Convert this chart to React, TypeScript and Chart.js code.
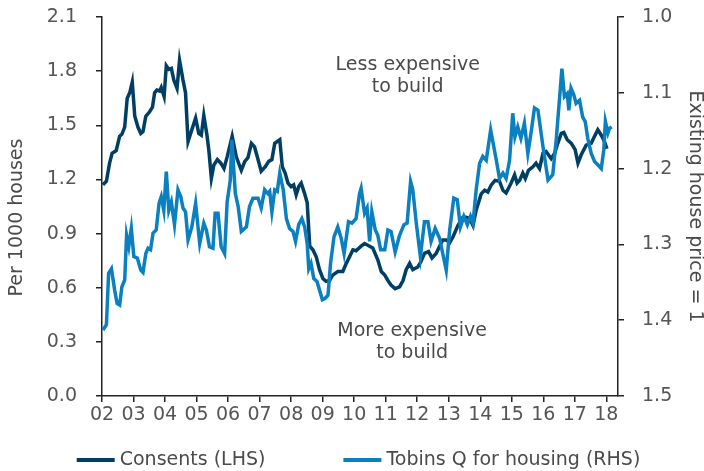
import React, { useEffect, useRef } from 'react';
import { Chart, registerables } from 'chart.js';

Chart.register(...registerables);

// ---- Data (decimal year, value) ----
const consentsX = [
  2002.03, 2002.14, 2002.24, 2002.32, 2002.45, 2002.56, 2002.63, 2002.72, 2002.80, 2002.88, 2002.96,
  2003.04, 2003.14, 2003.23, 2003.30, 2003.39, 2003.51, 2003.60, 2003.67, 2003.74, 2003.83, 2003.88, 2003.97,
  2004.04, 2004.12, 2004.20, 2004.28, 2004.38, 2004.46, 2004.57, 2004.65, 2004.73, 2004.83, 2004.97,
  2005.07, 2005.15, 2005.23, 2005.33, 2005.39, 2005.47, 2005.55, 2005.66, 2005.77, 2005.87, 2005.97,
  2006.13, 2006.26, 2006.42, 2006.53, 2006.63, 2006.74, 2006.84, 2006.95,
  2007.05, 2007.18, 2007.29, 2007.39, 2007.48, 2007.64, 2007.72, 2007.81, 2007.90,
  2008.00, 2008.08, 2008.16, 2008.24, 2008.32, 2008.43, 2008.51, 2008.59, 2008.69, 2008.80, 2008.90,
  2009.01, 2009.11, 2009.22, 2009.32, 2009.48, 2009.64, 2009.75, 2009.85, 2009.96,
  2010.06, 2010.22, 2010.33, 2010.49, 2010.59, 2010.75, 2010.86, 2010.97,
  2011.07, 2011.17, 2011.30, 2011.44, 2011.55, 2011.65, 2011.76, 2011.86,
  2012.02, 2012.12, 2012.23, 2012.36, 2012.47, 2012.60, 2012.71, 2012.81, 2012.92,
  2013.03, 2013.13, 2013.29, 2013.45, 2013.55, 2013.66, 2013.77, 2013.87,
  2014.03, 2014.14, 2014.24, 2014.35, 2014.47, 2014.61, 2014.72, 2014.82, 2014.98,
  2015.09, 2015.17, 2015.25, 2015.35, 2015.43, 2015.53, 2015.67, 2015.77, 2015.88, 2015.99,
  2016.09, 2016.25, 2016.36, 2016.46, 2016.57, 2016.65, 2016.76, 2016.89,
  2017.01, 2017.10, 2017.20, 2017.36, 2017.52, 2017.63, 2017.73, 2017.84, 2017.94, 2018.02,
];
const consentsY = [
  1.17, 1.19, 1.29, 1.345, 1.36, 1.44, 1.45, 1.49, 1.65, 1.68, 1.74,
  1.55, 1.49, 1.455, 1.465, 1.55, 1.575, 1.60, 1.68, 1.695, 1.69, 1.71, 1.66,
  1.83, 1.81, 1.815, 1.75, 1.705, 1.86, 1.75, 1.68, 1.41, 1.465, 1.54,
  1.455, 1.445, 1.555, 1.445, 1.36, 1.206, 1.28, 1.31, 1.29, 1.26, 1.325,
  1.44, 1.325, 1.25, 1.30, 1.32, 1.40, 1.38, 1.31,
  1.245, 1.27, 1.30, 1.31, 1.40, 1.42, 1.27, 1.235, 1.18,
  1.16, 1.17, 1.115, 1.16, 1.18, 1.12, 1.07, 0.83, 0.81, 0.77, 0.70,
  0.65, 0.635, 0.64, 0.67, 0.69, 0.69, 0.735, 0.77, 0.81,
  0.805, 0.83, 0.845, 0.83, 0.82, 0.755, 0.69, 0.67,
  0.64, 0.615, 0.595, 0.605, 0.64, 0.70, 0.735, 0.70,
  0.715, 0.745, 0.79, 0.80, 0.765, 0.79, 0.83, 0.865, 0.865,
  0.85, 0.88, 0.945, 0.99, 0.99, 0.985, 0.945, 1.03,
  1.12, 1.14, 1.13, 1.17, 1.195, 1.19, 1.14, 1.125, 1.18,
  1.225, 1.18, 1.195, 1.235, 1.205, 1.25, 1.27, 1.29, 1.26, 1.345,
  1.355, 1.315, 1.345, 1.40, 1.455, 1.46, 1.42, 1.40,
  1.365, 1.29, 1.335, 1.39, 1.40, 1.44, 1.475, 1.445, 1.41, 1.37,
];

const tobinsX = [
  2002.03, 2002.14, 2002.21, 2002.30, 2002.40, 2002.48, 2002.56, 2002.63, 2002.72, 2002.78, 2002.85, 2002.93,
  2003.01, 2003.12, 2003.23, 2003.30, 2003.39, 2003.46, 2003.54, 2003.62, 2003.72, 2003.81, 2003.88, 2003.96,
  2004.04, 2004.12, 2004.20, 2004.30, 2004.41, 2004.50, 2004.57, 2004.65, 2004.73, 2004.85, 2004.97,
  2005.10, 2005.23, 2005.31, 2005.41, 2005.52, 2005.59, 2005.68, 2005.78, 2005.89, 2005.97,
  2006.07, 2006.12, 2006.23, 2006.32, 2006.42, 2006.58, 2006.68, 2006.79, 2006.95,
  2007.05, 2007.16, 2007.26, 2007.32, 2007.39, 2007.48, 2007.56, 2007.64, 2007.75, 2007.85, 2007.95,
  2008.06, 2008.14, 2008.24, 2008.34, 2008.43, 2008.51, 2008.56, 2008.63, 2008.72, 2008.82, 2008.90, 2008.99,
  2009.08, 2009.17, 2009.25, 2009.36, 2009.48, 2009.59, 2009.68, 2009.82, 2009.93,
  2010.06, 2010.17, 2010.22, 2010.33, 2010.41, 2010.49, 2010.56, 2010.67, 2010.75, 2010.84, 2010.97,
  2011.07, 2011.17, 2011.30, 2011.44, 2011.58, 2011.68, 2011.79, 2011.86, 2011.97,
  2012.10, 2012.23, 2012.34, 2012.44, 2012.57, 2012.71, 2012.81, 2012.92,
  2013.03, 2013.16, 2013.27, 2013.37, 2013.48, 2013.59, 2013.69, 2013.77, 2013.87, 2013.98,
  2014.08, 2014.19, 2014.33, 2014.51, 2014.61, 2014.72, 2014.82, 2014.93,
  2015.03, 2015.10, 2015.19, 2015.29, 2015.40, 2015.51, 2015.61, 2015.72, 2015.83, 2015.99,
  2016.15, 2016.30, 2016.41, 2016.52, 2016.59, 2016.67, 2016.76, 2016.81, 2016.88, 2016.97,
  2017.04, 2017.15, 2017.25, 2017.33, 2017.41, 2017.52, 2017.63, 2017.73, 2017.84, 2017.92, 2017.97,
  2018.05, 2018.10, 2018.17,
];
const tobinsY = [
  1.413, 1.406, 1.338, 1.332, 1.36, 1.378, 1.38, 1.356, 1.347, 1.288, 1.303, 1.279,
  1.316, 1.318, 1.334, 1.337, 1.312, 1.305, 1.307, 1.285, 1.281, 1.246, 1.237, 1.255,
  1.204, 1.255, 1.244, 1.274, 1.228, 1.237, 1.252, 1.257, 1.294, 1.277, 1.246,
  1.299, 1.272, 1.281, 1.303, 1.305, 1.259, 1.259, 1.303, 1.312, 1.244,
  1.215, 1.162, 1.233, 1.25, 1.283, 1.277, 1.25, 1.239, 1.239,
  1.252, 1.228, 1.233, 1.23, 1.257, 1.228, 1.23, 1.206, 1.228, 1.266, 1.279,
  1.283, 1.296, 1.274, 1.266, 1.277, 1.299, 1.332, 1.325, 1.345, 1.349, 1.36, 1.373,
  1.371, 1.367, 1.325, 1.29, 1.277, 1.292, 1.312, 1.27, 1.272,
  1.266, 1.233, 1.226, 1.259, 1.252, 1.296, 1.257, 1.281, 1.288, 1.307, 1.307,
  1.281, 1.283, 1.31, 1.288, 1.274, 1.272, 1.217, 1.228, 1.272,
  1.316, 1.27, 1.27, 1.296, 1.279, 1.292, 1.312, 1.334,
  1.281, 1.239, 1.241, 1.277, 1.263, 1.274, 1.263, 1.272, 1.228, 1.193,
  1.184, 1.189, 1.149, 1.189, 1.213, 1.206, 1.213, 1.189,
  1.127, 1.158, 1.145, 1.16, 1.14, 1.18, 1.153, 1.12, 1.123, 1.171,
  1.215, 1.208, 1.162, 1.105, 1.068, 1.105, 1.101, 1.123, 1.094, 1.103,
  1.114, 1.11, 1.132, 1.138, 1.16, 1.18, 1.191, 1.195, 1.2, 1.175, 1.138,
  1.153, 1.147, 1.145,
];

const yearTickLabels = ['02', '03', '04', '05', '06', '07', '08', '09', '10', '11', '12', '13', '14', '15', '16', '17', '18'];
const firstYear = 2002;
const lastX = 2018.37;

const seriesNames = ['Consents (LHS)', 'Tobins Q for housing (RHS)'];
const leftTitle = 'Per 1000 houses';
const rightTitle = 'Existing house price = 1';

const notes = [
  { lines: ['Less expensive', 'to build'], x: 2011.7, y: [1.834, 1.712] },
  { lines: ['More expensive', 'to build'], x: 2011.84, y: [0.36, 0.238] },
];

const DARK = '#003f63';
const LIGHT = '#0a80c0';
const TEXT = '#4a4a4a';
const TICK_TEXT = '#555555';
const AXIS = '#222222';
const FONT = '"DejaVu Sans", sans-serif';
const FS = 19;

const overlayPlugin = {
  id: 'overlayText',
  afterDraw(chart: any) {
    const { ctx, chartArea, scales } = chart;
    ctx.save();
    ctx.font = `${FS}px ${FONT}`;
    ctx.fillStyle = TEXT;
    ctx.textAlign = 'center';
    ctx.textBaseline = 'middle';
    notes.forEach((n) => {
      n.lines.forEach((t, i) => {
        ctx.fillText(t, scales.x.getPixelForValue(n.x), scales.y.getPixelForValue(n.y[i]));
      });
    });
    const midY = (chartArea.top + chartArea.bottom) / 2;
    ctx.save();
    ctx.translate(17, midY + 11);
    ctx.rotate(-Math.PI / 2);
    ctx.fillText(leftTitle, 0, 0);
    ctx.restore();
    ctx.save();
    ctx.translate(chart.width - 9, midY);
    ctx.rotate(Math.PI / 2);
    ctx.fillText(rightTitle, 0, 0);
    ctx.restore();

    // legend
    const sample = 38;
    const gap = 5;
    const itemGap = 78;
    const items = chart.data.datasets.map((d: any) => ({ text: d.label, color: d.borderColor, w: ctx.measureText(d.label).width }));
    const total = items.reduce((s: number, it: any) => s + sample + gap + it.w, 0) + itemGap * (items.length - 1);
    let x = (chartArea.left + chartArea.right) / 2 - 1.5 - total / 2;
    const ly = 460;
    ctx.textAlign = 'left';
    items.forEach((it: any) => {
      ctx.strokeStyle = it.color;
      ctx.lineWidth = 4;
      ctx.beginPath();
      ctx.moveTo(x, ly);
      ctx.lineTo(x + sample, ly);
      ctx.stroke();
      ctx.fillStyle = TEXT;
      ctx.fillText(it.text, x + sample + gap, ly);
      x += sample + gap + it.w + itemGap;
    });
    ctx.restore();
  },
};

const fitVertical = (w: number) => (s: any) => {
  s.width = w;
  s.paddingTop = 0;
  s.paddingBottom = 0;
};

export default function App() {
  const ref = useRef<HTMLCanvasElement | null>(null);
  useEffect(() => {
    if (!ref.current) return;
    const tickFont = { family: FONT, size: FS };
    const chart = new Chart(ref.current, {
      type: 'line',
      data: {
        datasets: [
          {
            label: seriesNames[0],
            data: consentsX.map((x, i) => ({ x, y: consentsY[i] })),
            borderColor: DARK,
            backgroundColor: DARK,
            borderWidth: 3.5,
            pointRadius: 0,
            tension: 0,
            yAxisID: 'y',
            order: 2,
          },
          {
            label: seriesNames[1],
            data: tobinsX.map((x, i) => ({ x, y: tobinsY[i] })),
            borderColor: LIGHT,
            backgroundColor: LIGHT,
            borderWidth: 3.5,
            pointRadius: 0,
            tension: 0,
            yAxisID: 'y2',
            order: 1,
          },
        ],
      },
      options: {
        responsive: false,
        animation: false,
        layout: { autoPadding: false, padding: { top: 17, left: 0, right: 0, bottom: 0 } },
        plugins: { legend: { display: false }, tooltip: { enabled: false } },
        scales: {
          x: {
            type: 'linear',
            min: firstYear,
            max: lastX,
            afterFit: (s: any) => { s.height = 75; s.paddingLeft = 0; s.paddingRight = 0; },
            grid: { drawOnChartArea: false, drawTicks: true, tickLength: 6, color: AXIS, lineWidth: 1.5 },
            border: { display: true, color: AXIS, width: 1.5 },
            ticks: {
              stepSize: 1,
              includeBounds: false,
              autoSkip: false,
              maxRotation: 0,
              padding: 2,
              color: TICK_TEXT,
              font: tickFont,
              callback: (v: any) => yearTickLabels[Math.round(Number(v) - firstYear)] ?? '',
            },
          },
          y: {
            type: 'linear',
            position: 'left',
            min: 0,
            max: 2.1,
            afterFit: fitVertical(102),
            grid: { drawOnChartArea: false, drawTicks: true, tickLength: 6, color: AXIS, lineWidth: 1.5 },
            border: { display: true, color: AXIS, width: 1.5 },
            ticks: { stepSize: 0.3, padding: 19, color: TICK_TEXT, font: tickFont, callback: (v: any) => Number(v).toFixed(1) },
          },
          y2: {
            type: 'linear',
            position: 'right',
            min: 1.0,
            max: 1.5,
            reverse: true,
            afterFit: fitVertical(86),
            grid: { drawOnChartArea: false, drawTicks: true, tickLength: 6, color: AXIS, lineWidth: 1.5 },
            border: { display: true, color: AXIS, width: 1.5 },
            ticks: { stepSize: 0.1, padding: 18, color: TICK_TEXT, font: tickFont, callback: (v: any) => Number(v).toFixed(1) },
          },
        },
      },
      plugins: [overlayPlugin],
    } as any);
    return () => chart.destroy();
  }, []);
  return (
    <div style={{ position: 'absolute', left: 0, top: 0, width: 704, height: 471 }}>
      <canvas ref={ref} width={704} height={471} style={{ display: 'block' }} />
    </div>
  );
}
